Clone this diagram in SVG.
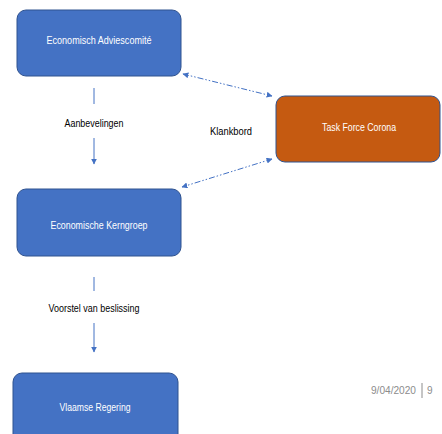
<svg xmlns="http://www.w3.org/2000/svg" width="442" height="434" viewBox="0 0 442 434">
<style>
.box{fill:#4472C4;stroke:#2F528F;stroke-width:1}
.orange{fill:#C55A11;stroke:#2F528F;stroke-width:1}
.wt{fill:#fff;font-family:"Liberation Sans Narrow","Liberation Sans",sans-serif;font-size:10.5px;text-anchor:middle;dominant-baseline:central}
.bt{fill:#000;font-family:"Liberation Sans Narrow","Liberation Sans",sans-serif;font-size:10.5px;text-anchor:middle;dominant-baseline:central}
.ln{stroke:#4472C4;stroke-width:1;fill:none}
.dd{stroke:#4472C4;stroke-width:1;fill:none;stroke-dasharray:6 2 1.5 2 1.5 2}
.foot{fill:#8C8C8C;font-family:"Liberation Sans",sans-serif;font-size:10px;dominant-baseline:central}
</style>
<defs>
<marker id="ah" viewBox="0 0 10 10" refX="9" refY="5" markerWidth="6" markerHeight="6" orient="auto-start-reverse" markerUnits="userSpaceOnUse">
<path d="M0,0 L10,5 L0,10 z" fill="#4472C4"/>
</marker>
</defs>
<rect width="442" height="434" fill="#fff"/>
<g id="connectors">
<line class="ln" x1="94" y1="88" x2="94" y2="104"/>
<line class="ln" x1="94" y1="138" x2="94" y2="164" marker-end="url(#ah)"/>
<line class="ln" x1="94" y1="277" x2="94" y2="291"/>
<line class="ln" x1="94" y1="323" x2="94" y2="352" marker-end="url(#ah)"/>
<line class="dd" x1="183" y1="74" x2="272" y2="96" marker-start="url(#ah)" marker-end="url(#ah)"/>
<line class="dd" x1="272" y1="159" x2="182" y2="187" marker-start="url(#ah)" marker-end="url(#ah)"/>
<text class="bt" x="94" y="123" textLength="59" lengthAdjust="spacingAndGlyphs">Aanbevelingen</text>
<text class="bt" x="94" y="308" textLength="91" lengthAdjust="spacingAndGlyphs">Voorstel van beslissing</text>
<text class="bt" x="231" y="131" textLength="42" lengthAdjust="spacingAndGlyphs">Klankbord</text>
</g>
<g id="n1">
<rect class="box" x="17" y="10" width="164" height="66" rx="9"/>
<text class="wt" x="99" y="40" textLength="105" lengthAdjust="spacingAndGlyphs">Economisch Adviescomité</text>
</g>
<g id="n2">
<rect class="box" x="17" y="189" width="164" height="67" rx="9"/>
<text class="wt" x="99" y="225" textLength="97" lengthAdjust="spacingAndGlyphs">Economische Kerngroep</text>
</g>
<g id="n3">
<rect class="box" x="13" y="373" width="165" height="70" rx="9"/>
<text class="wt" x="95" y="407" textLength="71" lengthAdjust="spacingAndGlyphs">Vlaamse Regering</text>
</g>
<g id="n4">
<rect class="orange" x="276" y="96" width="164" height="66" rx="9"/>
<text class="wt" x="359" y="127" textLength="74" lengthAdjust="spacingAndGlyphs">Task Force Corona</text>
</g>
<g id="footer">
<text class="foot" x="371" y="390" textLength="45" lengthAdjust="spacingAndGlyphs">9/04/2020</text>
<line x1="422" y1="383" x2="422" y2="398" stroke="#8C8C8C" stroke-width="1"/>
<text class="foot" x="427" y="390">9</text>
</g>
</svg>
